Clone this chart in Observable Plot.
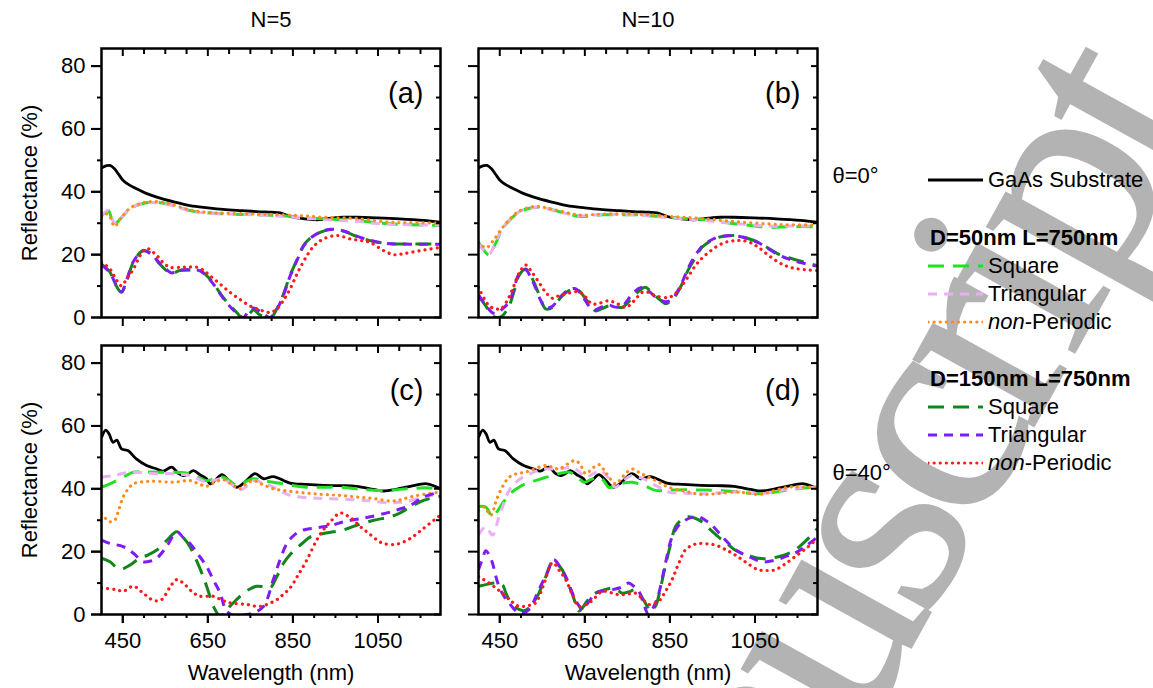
<!DOCTYPE html>
<html><head><meta charset="utf-8">
<script src="https://cdn.jsdelivr.net/npm/d3@7"></script>
<script src="https://cdn.jsdelivr.net/npm/@observablehq/plot@0.6"></script>
<style>
body{margin:0;background:#fff;font-family:"Liberation Sans",Arial,sans-serif;}
#wrap{position:relative;width:1153px;height:688px;overflow:hidden;background:#fff}
#wm{position:absolute;left:0;top:0}
#chart{position:absolute;left:0;top:0}
#legend{position:absolute;left:0;top:0;font-size:22px;color:#000}
.row{position:absolute;display:flex;align-items:center;white-space:nowrap;height:28px;line-height:28px}
.row svg{margin-right:5px}
.hdr{font-weight:bold}
</style></head><body><div id="wrap"><svg id="wm" width="1153" height="688"></svg><div id="chart"></div><div id="legend"></div></div>
<script>
// ---------------- data (wavelength nm, reflectance %) ----------------
const colsN = ["N=5", "N=10"];
const rowsTheta = ["θ=0°", "θ=40°"];
const panelTags = ["(a)", "(b)", "(c)", "(d)"];
const xTicksMajor = [450, 650, 850, 1050];
const xTicksMinor = [500, 550, 600, 700, 750, 800, 900, 950, 1000, 1100, 1150];
const yTicksMajor = [0, 20, 40, 60, 80];
const yTicksMinor = [10, 30, 50, 70];

// GaAs substrate
const gaas0 = [[400,47.6],[412,48.3],[420,48.4],[430,47.4],[440,45.6],[451,43.6],[465,42.2],[482,41],[505,39.5],[530,38.3],[570,36.8],[608,35.6],[650,34.9],[686,34.4],[730,34],[765,33.7],[800,33.5],[820,33.3],[835,32.6],[851,31.9],[880,31.4],[906,31.1],[940,31.6],[969,31.9],[1000,31.9],[1048,31.7],[1100,31.4],[1157,30.9],[1197,30.3]];
const gaas40 = [[400,56.3],[410,58.7],[418,57.4],[427,54.8],[436,55.5],[447,52.7],[463,52.1],[482,49.5],[506,47.4],[530,46.3],[545,45.6],[565,46.9],[580,45],[592,44.2],[604,44.8],[616,45.8],[632,44.4],[647,43.2],[655,41.6],[668,42.8],[683,44.5],[700,42.5],[718,40.5],[740,42.5],[761,44.8],[781,43.2],[804,43.9],[843,41.8],[880,41.4],[922,41.1],[960,41],[1000,40.8],[1040,39.8],[1063,39.3],[1095,39.9],[1126,40.8],[1165,41.6],[1197,40]];

// (a) N=5, θ=0°
const s50a = [[400,32.4],[410,33.5],[416,34],[424,31.5],[431,29.8],[445,31.5],[467,34.6],[490,36],[514,36.7],[553,36.2],[580,35.2],[608,34],[650,33.3],[686,33],[730,32.8],[765,32.7],[800,32.5],[843,32.2],[880,31.7],[922,31.4],[960,31.1],[1000,30.9],[1040,30.2],[1079,29.8],[1130,29.5],[1197,29.3]];
const t50a = [[400,32.6],[410,33.6],[416,34.1],[424,31.7],[431,30],[445,31.6],[467,34.7],[490,36.1],[514,36.6],[553,36.1],[580,35.1],[608,33.9],[650,33.2],[686,33],[730,32.8],[765,32.6],[800,32.4],[843,32],[880,31.6],[922,31.2],[960,30.9],[1000,30.6],[1040,30],[1079,29.7],[1130,29.5],[1197,29.4]];
const p50a = [[400,32],[410,33],[418,32.5],[431,29],[445,31.5],[467,34.8],[490,36.2],[514,36.9],[553,36.4],[608,34.2],[650,33.4],[686,33.2],[765,32.9],[843,32.6],[922,31.9],[1000,31.5],[1079,30.3],[1130,30.2],[1197,30]];
const s150a = [[400,17],[420,14.4],[435,10],[447,8],[460,12],[475,17.6],[498,21.3],[518,20.2],[537,17],[552,15],[565,13.8],[580,14.8],[608,15.1],[632,14.9],[655,12.2],[670,9.5],[686,6.4],[702,3.8],[718,1.6],[734,-0.5],[750,1.5],[757,2.5],[770,1],[781,0.3],[796,-0.5],[812,2.7],[828,7.5],[843,13.3],[860,18.5],[875,22.9],[890,25.2],[906,26.6],[922,27.5],[938,28],[957,27.8],[977,27.1],[1000,25.8],[1040,24.2],[1070,23.6],[1095,23.4],[1150,23.4],[1197,23.4]];
const t150a = [[400,16.8],[420,14.2],[435,10.2],[447,8.2],[460,12.3],[475,17.8],[498,21.2],[518,20],[537,17.2],[552,15.3],[565,14.2],[580,15],[608,15.2],[632,14.8],[655,12],[670,9.3],[686,6.2],[702,3.5],[718,1.4],[734,0],[745,2],[757,3],[770,2.2],[781,1.2],[796,0],[812,2.5],[828,7.2],[843,13],[860,18.3],[875,22.7],[890,25.1],[906,26.6],[922,27.6],[938,28.1],[957,27.9],[977,27.2],[1000,25.9],[1040,24.3],[1070,23.6],[1095,23.4],[1150,23.3],[1197,23.3]];
const p150a = [[400,17.6],[420,15.4],[435,12],[447,10.1],[460,12.5],[475,15.4],[490,19.5],[506,22],[530,19.7],[545,17.5],[561,16],[592,16],[624,16],[640,15],[655,13.3],[680,10.5],[702,8],[725,5.8],[749,3.7],[775,2.3],[796,1.6],[812,2.7],[828,5.5],[843,9],[862,14.5],[883,19.7],[900,22.8],[922,25],[953,26.1],[985,25],[1010,24.5],[1032,23.9],[1063,21.3],[1087,20],[1105,20.2],[1126,20.7],[1160,21.5],[1197,22.3]];

// (b) N=10, θ=0°
const s50b = [[400,23.9],[412,21.5],[425,19.9],[440,23.5],[456,28.2],[475,31.2],[495,33.5],[515,34.6],[534,35.1],[560,34.8],[581,34],[610,33],[636,32.2],[660,32.3],[691,32.7],[730,32.7],[769,32.7],[810,32.3],[847,31.9],[885,31.5],[925,31.2],[965,30.5],[1003,29.8],[1040,29.3],[1082,28.7],[1130,28.9],[1197,28.9]];
const t50b = [[400,23.5],[412,21.4],[425,20.2],[440,23.8],[456,28.5],[475,31.4],[495,33.6],[515,34.7],[534,35.1],[560,34.7],[581,33.9],[610,33],[636,32.4],[660,32.5],[691,32.8],[730,32.8],[769,32.7],[810,32.2],[847,31.8],[885,31.4],[925,31],[965,30.4],[1003,29.9],[1040,29.5],[1082,29.1],[1130,29.1],[1197,29.1]];
const p50b = [[400,24],[412,22.5],[420,22.3],[435,24.5],[456,28.5],[475,31.5],[495,33.8],[534,35.3],[581,34.2],[636,32.6],[691,32.9],[769,32.9],[847,32.2],[925,31.5],[1003,30.5],[1082,29.8],[1130,29.5],[1197,29.5]];
const s150b = [[400,6.9],[417,3.7],[433,0.5],[445,0],[456,0.5],[472,3.7],[485,9],[495,13.3],[511,15.4],[522,13.5],[534,10.1],[546,6],[558,2.7],[574,3.2],[585,5],[597,6.9],[612,8.5],[628,9.3],[640,8],[652,5.9],[664,3.8],[675,2.1],[690,2.8],[706,3.7],[722,3.5],[738,3.2],[753,5],[769,7.4],[781,8.8],[792,9.6],[804,8.5],[816,6.9],[828,5.5],[839,4.4],[851,5],[863,6.9],[878,10.5],[894,15.4],[910,19],[925,22.3],[945,24.3],[964,25.5],[985,26],[1003,26.1],[1030,25.3],[1058,23.9],[1080,22.2],[1105,20.2],[1130,19],[1160,17.8],[1197,16.5]];
const t150b = [[400,7.2],[417,4],[433,1.5],[445,1.5],[456,2.7],[472,5],[485,10],[495,13.8],[511,15.2],[522,13],[534,9.5],[546,5.5],[558,3],[574,3.6],[585,5.4],[597,7.2],[612,8.8],[628,9.2],[640,7.6],[652,5.2],[664,3],[675,2.5],[690,3.4],[706,4],[722,3.3],[738,3.6],[753,6],[769,8.5],[781,9.5],[792,9.2],[804,8],[816,6.5],[828,5.6],[839,5],[851,5.4],[863,7.2],[878,11],[894,16],[910,19.8],[925,22.6],[945,24.5],[964,25.6],[985,26],[1003,26],[1030,25.2],[1058,23.8],[1080,22],[1105,20],[1130,18.6],[1160,17.4],[1197,16.3]];
const p150b = [[400,9.6],[425,3.7],[440,2.8],[452,2.7],[466,5],[480,9],[495,14],[511,16.7],[525,14.5],[542,11.2],[558,8],[574,6.1],[590,7],[613,7.8],[636,8.2],[652,6.5],[667,4.3],[685,4.6],[706,5.3],[725,4.5],[746,3.2],[765,5.2],[785,8],[800,8],[816,6.9],[847,6.4],[862,7.5],[878,10.1],[894,13.2],[910,16.5],[925,18.8],[941,20.7],[960,22.6],[980,23.9],[1000,24.4],[1019,24.5],[1040,23.8],[1058,22.3],[1080,20],[1105,17.6],[1125,16.3],[1144,15.6],[1170,15.2],[1197,14.9]];

// (c) N=5, θ=40°
const s50c = [[400,40.5],[420,41.6],[451,43.7],[475,45.3],[500,45.4],[530,45.3],[561,45.3],[585,45.2],[608,44.8],[630,43.5],[647,42.6],[665,43.2],[686,43.7],[702,42.5],[718,41.1],[738,42.2],[757,43.2],[780,42.6],[804,42.1],[843,41.2],[883,40.5],[922,40.5],[961,40.5],[1000,40],[1040,39.5],[1080,39.6],[1118,40],[1160,40.3],[1197,40]];
const t50c = [[400,43.7],[427,44.2],[467,45.3],[530,44.8],[569,44.8],[608,44.2],[630,43],[647,42.1],[668,42.8],[686,43.2],[705,41.5],[726,39.7],[745,41.2],[757,42.6],[780,41.8],[804,40.5],[825,39],[843,37.9],[880,37.2],[922,36.9],[1000,36.5],[1040,36],[1079,35.5],[1100,35.7],[1126,36.3],[1160,37.5],[1197,38.4]];
const p50c = [[400,32.1],[410,30.5],[420,29.5],[431,30],[441,33.5],[451,37.4],[463,40],[475,41.6],[514,42.4],[569,42.1],[608,42.6],[630,41.5],[647,40.8],[665,42],[686,42.9],[705,41.5],[722,40],[740,41.5],[757,42.6],[780,41.3],[804,40],[843,39.2],[883,38.6],[922,38.2],[961,37.9],[1000,37.4],[1040,36.9],[1079,36.1],[1100,36.4],[1126,37.4],[1160,38.3],[1197,39]];
const s150c = [[400,17.9],[420,16.8],[435,15],[447,14.4],[460,15.2],[471,16.1],[490,17.9],[510,19],[530,20.5],[553,23.5],[577,26.3],[592,24.5],[608,21.6],[624,17],[639,12.1],[652,7],[663,2.6],[679,-0.5],[690,0.5],[702,2.6],[718,4.8],[734,6.8],[750,8.2],[765,9],[781,8.8],[796,8.4],[812,12],[828,16.3],[843,19],[859,21.1],[875,23],[891,24.7],[922,25.8],[945,26.3],[969,26.9],[1000,28.4],[1040,30],[1079,31.1],[1100,32.2],[1126,34.2],[1157,36.3],[1197,37.6]];
const t150c = [[400,23.7],[420,22.6],[451,21.6],[475,19.5],[498,16.8],[515,17],[530,17.9],[553,21.6],[577,26.3],[592,24.5],[608,22.6],[628,19],[647,15.3],[663,11],[679,6.8],[694,1.1],[718,-0.5],[740,0],[757,0.5],[781,2.6],[804,11.1],[820,17.5],[836,22.6],[855,25.5],[875,26.9],[900,27.5],[922,27.9],[945,28.5],[969,29.5],[1000,30.3],[1032,31.1],[1079,32.6],[1100,33.5],[1126,34.7],[1157,37.4],[1197,39]];
const p150c = [[400,8.4],[435,7.9],[451,7.4],[475,9],[498,6.8],[522,4.5],[541,4.7],[560,8.5],[577,11.1],[600,9],[615,7],[632,5.8],[663,5.8],[684,4.5],[702,3.7],[741,3.2],[773,2.6],[812,4.7],[828,6.5],[843,8.4],[862,12.5],[883,17.4],[906,23.7],[922,27],[938,29.5],[961,32.3],[977,31.5],[993,30],[1008,28],[1024,26.3],[1045,24],[1063,22.6],[1095,22.4],[1126,24.2],[1157,27.4],[1197,31.6]];

// (d) N=10, θ=40°
const s50d = [[400,34.4],[417,34.2],[433,31.1],[445,33],[456,35.3],[475,38.5],[495,40.5],[515,41.8],[534,42.6],[555,43.5],[574,44.2],[595,45],[613,45.3],[630,44],[648,42.1],[665,43],[683,43.7],[695,42.5],[706,40.5],[725,41],[740,41.8],[761,42.1],[790,41],[816,39.5],[850,39.6],[886,39.7],[925,39.6],[964,39.5],[1010,39],[1058,38.4],[1090,38.8],[1121,39.5],[1160,40.2],[1197,40.5]];
const t50d = [[400,25.3],[417,27.9],[433,25.3],[448,31.1],[460,35.5],[472,39.5],[490,42.3],[511,44.2],[530,45.3],[550,46.3],[581,46.3],[600,46.5],[620,46.9],[636,45.5],[652,43.7],[670,44.8],[687,45.8],[705,43.5],[722,40.5],[740,42.5],[761,44.2],[792,42.9],[820,40.8],[847,39],[886,38.6],[925,38.4],[964,38.7],[1003,39],[1040,38.7],[1066,38.4],[1097,39.2],[1129,40],[1160,40.3],[1197,40.5]];
const p50d = [[400,33.2],[413,34.2],[429,31.6],[440,35.5],[448,38.4],[460,41.5],[472,43.7],[490,44.8],[511,45.3],[535,46.5],[558,47.4],[575,46.8],[589,46.3],[608,47.8],[628,49],[640,47.5],[652,44.8],[668,46.5],[683,47.7],[700,45],[722,41.6],[740,44],[761,46.3],[780,45],[800,43.7],[825,42],[847,40.5],[886,39.2],[925,38.2],[964,38.5],[1003,39],[1030,38.7],[1058,38.2],[1090,39.2],[1129,40.5],[1160,40.6],[1197,40.5]];
const s150d = [[400,9],[417,9.5],[441,10],[456,9.5],[464,7],[472,4.7],[483,2.8],[495,1.6],[507,1.2],[519,2.1],[530,4],[542,6.8],[558,12],[574,16.8],[585,16],[597,14.2],[608,10.5],[620,6.8],[628,3.5],[636,1.1],[644,2],[652,3.7],[664,5.5],[675,6.8],[695,7.8],[714,8.4],[726,7.8],[738,6.8],[753,7.2],[769,7.9],[777,7],[785,5.3],[795,3],[804,1.1],[816,2.6],[828,8.5],[839,15.3],[851,22],[863,27.9],[878,30.2],[894,31.1],[910,30.6],[925,29.5],[945,27],[964,24.7],[985,22.5],[1003,20.5],[1030,19],[1058,17.9],[1080,17.8],[1105,18.4],[1125,19.2],[1144,20.5],[1170,23.5],[1197,27.4]];
const t150d = [[400,14.2],[410,18],[417,20.3],[425,19],[433,16.3],[440,12.5],[448,9],[460,5.8],[472,3.7],[483,1.8],[495,0.5],[507,0.6],[519,1.6],[530,4.2],[542,7.9],[560,12.8],[577,17.4],[590,15.5],[605,12.1],[617,8],[628,4.7],[636,2.8],[644,1.6],[660,4.2],[675,6.8],[695,7.5],[714,7.9],[735,8.6],[753,10],[765,9],[777,7.4],[788,3.5],[800,0],[812,2.5],[824,6.8],[839,16],[855,24.7],[870,28.2],[886,30],[902,30.9],[918,31.1],[933,30],[949,28.4],[975,24.5],[1003,20.7],[1035,18.5],[1066,16.8],[1095,17.2],[1121,18.4],[1145,19.6],[1170,21.8],[1197,24.7]];
const p150d = [[400,12.1],[425,10],[440,8.5],[456,6.8],[475,4.5],[495,2.6],[515,2.8],[534,3.7],[552,9],[574,16.5],[590,14],[605,11.1],[620,6.5],[636,2.6],[660,3.7],[675,5.5],[691,7.4],[710,7],[730,6.3],[750,6.5],[769,6.8],[785,5],[800,3.2],[812,3.5],[824,4.2],[840,7.5],[855,11.1],[870,16],[886,20.5],[902,22],[918,22.6],[937,22.5],[957,22.1],[980,20.7],[1003,19],[1030,16.5],[1058,14.2],[1080,14],[1097,14.2],[1120,16],[1144,18.4],[1170,21],[1197,24.2]];

// ---------------- series styles ----------------
const seriesStyle = [
  {key: "GaAs", color: "#000000", width: 2.8, dash: null, cap: "butt"},
  {key: "S50", color: "#22e022", width: 3, dash: "16,9", cap: "butt"},
  {key: "T50", color: "#e9b0f2", width: 3, dash: "9,7", cap: "butt"},
  {key: "P50", color: "#ff8c1a", width: 3.2, dash: "0.1,6", cap: "round"},
  {key: "S150", color: "#12861a", width: 3, dash: "16,9", cap: "butt"},
  {key: "T150", color: "#7d1cf5", width: 3, dash: "9,7", cap: "butt"},
  {key: "P150", color: "#ff1a1a", width: 3.2, dash: "0.1,6", cap: "round"}
];

// ---------------- build long table ----------------
const table = [];
function addSeries(key, N, th, pts) { for (const [w, v] of pts) table.push({key, N, th, w, v}); }
const panelSeries = [
  [colsN[0], rowsTheta[0], {GaAs: gaas0, S50: s50a, T50: t50a, P50: p50a, S150: s150a, T150: t150a, P150: p150a}],
  [colsN[1], rowsTheta[0], {GaAs: gaas0, S50: s50b, T50: t50b, P50: p50b, S150: s150b, T150: t150b, P150: p150b}],
  [colsN[0], rowsTheta[1], {GaAs: gaas40, S50: s50c, T50: t50c, P50: p50c, S150: s150c, T150: t150c, P150: p150c}],
  [colsN[1], rowsTheta[1], {GaAs: gaas40, S50: s50d, T50: t50d, P50: p50d, S150: s150d, T150: t150d, P150: p150d}]
];
for (const [N, th, ser] of panelSeries) for (const k in ser) addSeries(k, N, th, ser[k]);
const tags = panelSeries.map(([N, th], i) => ({N, th, tag: panelTags[i]}));
const leftCol = rowsTheta.map(th => ({N: colsN[0], th}));
const bottomRow = colsN.map(N => ({N, th: rowsTheta[1]}));

// ---------------- watermark (background stamp) ----------------
d3.select("#wm").append("text")
  .attr("x", 1202).attr("y", 123)
  .attr("transform", "rotate(-61,1202,123)")
  .attr("text-anchor", "end")
  .attr("font-family", "Liberation Serif, Times New Roman, serif")
  .attr("font-size", 300)
  .attr("letter-spacing", -16)
  .attr("fill", "#b3b3b3")
  .attr("stroke", "#b3b3b3")
  .attr("stroke-width", 2)
  .text("Accepted Manuscript");

const FONT = "Liberation Sans, Arial, sans-serif";
const FS = 22;
const tickOnly = (o) => ({tickFormat: () => "", label: null, facetAnchor: null, strokeWidth: 2, ...o});

const chart = Plot.plot({
  width: 1153, height: 688,
  marginLeft: 101, marginRight: 335, marginTop: 47.5, marginBottom: 74,
  style: {fontFamily: FONT, fontSize: FS + "px", color: "#000", background: "transparent", overflow: "visible"},
  x: {domain: [400, 1197]},
  y: {domain: [0, 85.6]},
  fx: {domain: colsN, paddingInner: 0.1007, paddingOuter: 0, label: null},
  fy: {domain: rowsTheta, paddingInner: 0.094, paddingOuter: 0, label: null},
  marks: [
    ...seriesStyle.map(s => Plot.line(table.filter(d => d.key === s.key), {
      x: "w", y: "v", fx: "N", fy: "th",
      stroke: s.color, strokeWidth: s.width, strokeDasharray: s.dash, strokeLinecap: s.cap,
      curve: "catmull-rom", clip: true
    })),
    Plot.frame({stroke: "#000", strokeWidth: 2.5}),
    // tick marks on all panels
    Plot.axisY(tickOnly({anchor: "left", ticks: yTicksMajor, tickSize: 10})),
    Plot.axisY(tickOnly({anchor: "left", ticks: yTicksMinor, tickSize: 4})),
    Plot.axisY(tickOnly({anchor: "right", ticks: yTicksMajor, tickSize: -7})),
    Plot.axisY(tickOnly({anchor: "right", ticks: yTicksMinor, tickSize: -5})),
    Plot.axisX(tickOnly({anchor: "bottom", ticks: xTicksMajor, tickSize: 9})),
    Plot.axisX(tickOnly({anchor: "bottom", ticks: xTicksMinor, tickSize: 4})),
    Plot.axisX(tickOnly({anchor: "top", ticks: xTicksMajor, tickSize: -7})),
    Plot.axisX(tickOnly({anchor: "top", ticks: xTicksMinor, tickSize: -5})),
    // tick labels on outer panels
    Plot.axisY({anchor: "left", ticks: yTicksMajor, tickFormat: d => String(d), tickSize: 10, tickPadding: 6, strokeWidth: 2, fontSize: FS, label: null}),
    Plot.axisX({anchor: "bottom", ticks: xTicksMajor, tickFormat: d => String(d), tickSize: 9, tickPadding: 9, strokeWidth: 2, fontSize: FS, label: null}),
    Plot.axisFx({anchor: "top", tickSize: 0, tickPadding: 22, fontSize: FS, label: null}),
    Plot.axisFy({anchor: "right", tickSize: 0, tickPadding: 15, dy: -7, fontSize: FS, label: null, textAnchor: "start"}),
    // axis titles
    Plot.text(leftCol, {fx: "N", fy: "th", text: () => "Reflectance (%)", frameAnchor: "left", rotate: -90, dx: -72, textAnchor: "middle", lineAnchor: "middle", fontSize: FS}),
    Plot.text(bottomRow, {fx: "N", fy: "th", text: () => "Wavelength (nm)", frameAnchor: "bottom", dy: 58, textAnchor: "middle", lineAnchor: "middle", fontSize: FS}),
    // panel tags
    Plot.text(tags, {fx: "N", fy: "th", text: "tag", frameAnchor: "top-right", dx: -17, dy: 45, textAnchor: "end", lineAnchor: "middle", fontSize: 29})
  ]
});
document.getElementById("chart").appendChild(chart);

// ---------------- legend ----------------
const legendItems = [
  {type: "line", key: "GaAs", label: "GaAs Substrate", y: 180},
  {type: "hdr", label: "D=50nm L=750nm", y: 238},
  {type: "line", key: "S50", label: "Square", y: 266},
  {type: "line", key: "T50", label: "Triangular", y: 294},
  {type: "line", key: "P50", label: "<i>non</i>-Periodic", y: 322},
  {type: "hdr", label: "D=150nm L=750nm", y: 379},
  {type: "line", key: "S150", label: "Square", y: 407},
  {type: "line", key: "T150", label: "Triangular", y: 435},
  {type: "line", key: "P150", label: "<i>non</i>-Periodic", y: 463}
];
const leg = d3.select("#legend");
for (const it of legendItems) {
  const row = leg.append("div").attr("class", "row" + (it.type === "hdr" ? " hdr" : ""))
    .style("left", (it.type === "hdr" ? 930 : 928) + "px").style("top", (it.y - 14) + "px");
  if (it.type === "line") {
    const s = seriesStyle.find(d => d.key === it.key);
    const svg = row.append("svg").attr("width", 55).attr("height", 10);
    svg.append("line").attr("x1", 0).attr("x2", 55).attr("y1", 5).attr("y2", 5)
      .attr("stroke", s.color).attr("stroke-width", s.width)
      .attr("stroke-dasharray", s.dash).attr("stroke-linecap", s.cap);
  }
  row.append("span").html(it.label);
}
</script></body></html>
